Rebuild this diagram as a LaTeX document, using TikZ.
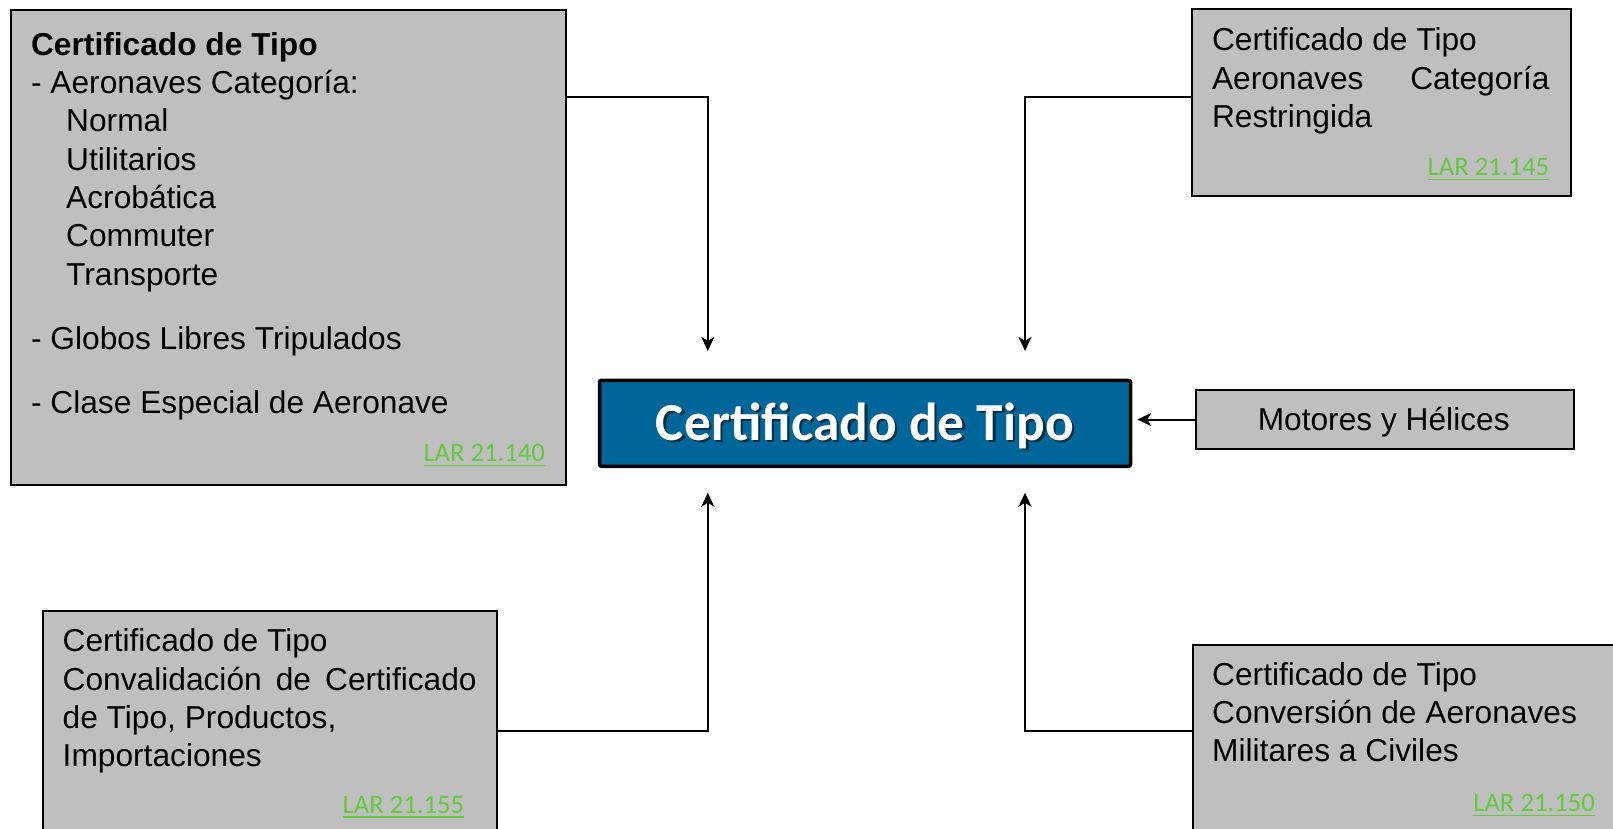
\documentclass[tikz,border=0pt]{standalone}
\usepackage{fontspec}
\setmainfont{Liberation Sans}
\newfontfamily\calib{Carlito}
\usetikzlibrary{arrows.meta}
\definecolor{boxgrey}{RGB}{191,191,191}
\definecolor{certblue}{RGB}{0,102,153}
\definecolor{lnkgreen}{RGB}{98,202,60}
\newcommand\lnk[1]{\setbox0\hbox{\calib\fontsize{26.67}{32}\selectfont\color{lnkgreen}#1}\rlap{\color{lnkgreen}\rule[-4.5pt]{\wd0}{1.5pt}}\box0}
\begin{document}
\begin{tikzpicture}[x=1pt,y=-1pt,
  gbox/.style={draw=black, line width=2pt, fill=boxgrey, anchor=north west, inner sep=0pt},
  txt/.style={anchor=base west, inner sep=0pt, font=\fontsize{31.7}{38}\selectfont},
  lar/.style={anchor=base east, inner sep=0pt},
  conn/.style={line width=2pt, -{Stealth[length=14pt,width=13pt,inset=4pt]}}]
\useasboundingbox (0,0) rectangle (1613,829);
\clip (0,0) rectangle (1613,829);
% boxes
\node[gbox, minimum width=554.7pt, minimum height=474.2pt] (b1) at (10.3,9.3) {};
\node[gbox, minimum width=379pt, minimum height=187pt] (b2) at (1191,8) {};
\node[gbox, minimum width=378.5pt, minimum height=58.4pt] (b3) at (1194.5,389.3) {};
\node[gbox, minimum width=453.7pt, minimum height=260pt] (b4) at (42.3,610) {};
\node[gbox, minimum width=450pt, minimum height=250pt] (b5) at (1191.5,644) {};
\node[draw=black, line width=3.5pt, fill=certblue, rounded corners=2pt, minimum width=531pt, minimum height=86pt, inner sep=0pt] (cert) at (865,423.3) {};
% central text
\node[anchor=base, inner sep=0pt, text=black, opacity=0.55, font=\calib\bfseries\fontsize{53.5}{60}\selectfont] (cshadow) at (867.5,442.5) {Certificado de Tipo};
\node[anchor=base, inner sep=0pt, text=white, font=\calib\bfseries\fontsize{53.5}{60}\selectfont] (ctext) at (865,440) {Certificado de Tipo};
% box 1 text
\node[txt] (a1) at (30.9,55.3) {\bfseries Certificado de Tipo};
\node[txt] (a2) at (30.9,93.8) {- Aeronaves Categoría:};
\node[txt] (a3) at (66,131.9) {Normal};
\node[txt] (a4) at (66,170.2) {Utilitarios};
\node[txt] (a5) at (66,208.4) {Acrobática};
\node[txt] (a6) at (66,246.7) {Commuter};
\node[txt] (a7) at (66,285.2) {Transporte};
\node[txt] (a8) at (30.9,349.3) {- Globos Libres Tripulados};
\node[txt] (a9) at (30.9,413.8) {- Clase Especial de Aeronave};
\node[lar] (l1) at (545.2,461.5) {\lnk{LAR 21.140}};
% box 2 text
\node[txt] (r1) at (1211.8,50.7) {Certificado de Tipo};
\node[txt] (r2) at (1211.8,89.3) {\makebox[337.5pt][s]{Aeronaves Categoría}};
\node[txt] (r3) at (1211.8,127.7) {Restringida};
\node[lar] (l2) at (1549.3,175.7) {\lnk{LAR 21.145}};
% box 3 text
\node[txt, anchor=base] (m1) at (1383.7,430) {Motores y Hélices};
% box 4 text
\node[txt] (c1) at (62.5,651.7) {Certificado de Tipo};
\node[txt] (c2) at (62.5,690) {\makebox[414pt][s]{Convalidación de Certificado}};
\node[txt] (c3) at (62.5,728.3) {de Tipo, Productos,};
\node[txt] (c4) at (62.5,766.7) {Importaciones};
\node[lar] (l4) at (464.3,813.3) {\lnk{LAR 21.155}};
% box 5 text
\node[txt] (v1) at (1212,685) {Certificado de Tipo};
\node[txt] (v2) at (1212,723.3) {Conversión de Aeronaves};
\node[txt] (v3) at (1212,761.7) {Militares a Civiles};
\node[lar] (l5) at (1595,811.7) {\lnk{LAR 21.150}};
% connectors
\coordinate (xl) at (707.8,0);
\coordinate (xr) at (1025,0);
\draw[conn, shorten >=27.6pt] (b1.east |- 0,96.7) -| (cert.north -| xl);
\draw[conn, shorten >=27.6pt] (b2.west |- 0,96.7) -| (cert.north -| xr);
\draw[conn, shorten >=24.7pt] (b4.east |- 0,731) -| (cert.south -| xl);
\draw[conn, shorten >=24.7pt] (b5.west |- 0,731) -| (cert.south -| xr);
\draw[conn, shorten >=5pt] (b3.west) -- (cert.east |- b3.west);
\end{tikzpicture}
\end{document}
